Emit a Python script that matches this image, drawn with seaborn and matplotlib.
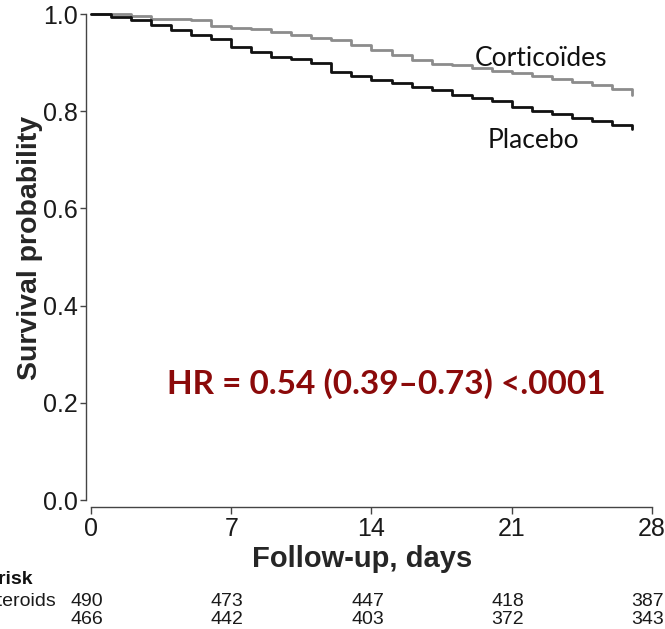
import numpy as np
import pandas as pd
import matplotlib
matplotlib.use("Agg")
import matplotlib.pyplot as plt
import matplotlib.transforms as mtransforms
import seaborn as sns

# ---- data ----
days = list(range(0, 28))
surv_cortico = [1.000, 1.000, 0.996, 0.990, 0.990, 0.987, 0.976, 0.972, 0.969, 0.962,
                0.957, 0.950, 0.947, 0.937, 0.925, 0.916, 0.905, 0.897, 0.895, 0.888,
                0.883, 0.878, 0.872, 0.866, 0.861, 0.854, 0.845, 0.834]
surv_placebo = [1.000, 0.994, 0.987, 0.977, 0.968, 0.957, 0.949, 0.932, 0.921, 0.912,
                0.907, 0.899, 0.881, 0.872, 0.865, 0.859, 0.850, 0.844, 0.833, 0.827,
                0.820, 0.809, 0.801, 0.794, 0.787, 0.780, 0.772, 0.763]
groups = ["Corticoïdes", "Placebo"]
xticks = [0, 7, 14, 21, 28]
yticks = [0.0, 0.2, 0.4, 0.6, 0.8, 1.0]
risk_cortico = [490, 473, 447, 418, 387]
risk_placebo = [466, 442, 403, 372, 343]
risk_labels = ["Number at risk", "Corticosteroids", "Placebo"]
hr_text = "HR = 0.54 (0.39\u20130.73) <.0001"

df = pd.DataFrame({
    "day": days + days,
    "surv": surv_cortico + surv_placebo,
    "group": [groups[0]] * len(days) + [groups[1]] * len(days),
})

sns.set_theme(style="white")
plt.rcParams["font.family"] = ["Liberation Sans", "DejaVu Sans"]

W, H = 665, 629
fig = plt.figure(figsize=(W / 100, H / 100), dpi=100)
ax_left, ax_right, ax_top, ax_bottom = 86, 660, 5, 507
ax = fig.add_axes([ax_left / W, 1 - ax_bottom / H, (ax_right - ax_left) / W, (ax_bottom - ax_top) / H])

sns.lineplot(data=df, x="day", y="surv", hue="group", ax=ax,
             palette={groups[0]: "#8c8c8c", groups[1]: "#111111"},
             drawstyle="steps-post", estimator=None, linewidth=2.0, legend=False)

# pixel mapping: day 0 -> 91 px, day 28 -> 652 px ; surv 0 -> 500, 1 -> 14
px_per_day = (652 - 91) / 28
px_per_unit = 500 - 14
ax.set_xlim((ax_left - 91) / px_per_day, (ax_right - 91) / px_per_day)
ax.set_ylim((500 - ax_bottom) / px_per_unit, (500 - ax_top) / px_per_unit)

for s_ in ["top", "right"]:
    ax.spines[s_].set_visible(False)
for s_ in ["left", "bottom"]:
    ax.spines[s_].set_color("#444444")
    ax.spines[s_].set_linewidth(1.0)
ax.spines["left"].set_bounds(0, 1)
ax.spines["bottom"].set_bounds(0, 28)

ax.set_xticks(xticks)
ax.set_xticklabels([str(t) for t in xticks])
ax.set_yticks(yticks)
ax.set_yticklabels([f"{t:.1f}" for t in yticks])
ax.tick_params(axis="y", direction="out", length=4, width=1, color="#444444",
               labelsize=18, labelcolor="#1a1a1a", pad=2, left=True)
ax.tick_params(axis="x", direction="out", length=5, width=1, color="#444444",
               labelsize=18, labelcolor="#1a1a1a", pad=2, bottom=True)

ax.set_xlabel("Follow-up, days", fontsize=21, fontweight="bold")
ax.set_ylabel("Survival probability", fontsize=20.5, fontweight="bold")
ax.xaxis.set_label_coords(0.481, -0.076)
ax.yaxis.set_label_coords(-0.075, 0.516)

# curve labels and HR annotation
def d(xpx):
    return (xpx - 91) / px_per_day

def s(ypx):
    return (500 - ypx) / px_per_unit

ax.text(d(541), s(58), groups[0], ha="center", va="center", fontsize=19,
        family=["Lato", "DejaVu Sans"], color="#111111")
ax.text(d(533), s(140), groups[1], ha="center", va="center", fontsize=19,
        family=["Lato", "DejaVu Sans"], color="#111111")
ax.text(d(386), s(384), hr_text, ha="center", va="center", fontsize=24,
        fontweight="bold", family=["Lato", "DejaVu Sans"], color="#8b0a0a")

# at-risk table
shift = mtransforms.ScaledTranslation(-4 / 100, 0, fig.dpi_scale_trans)
trans = mtransforms.blended_transform_factory(ax.transData, fig.transFigure) + shift
row_y = [1 - 601 / H, 1 - 619 / H]
for xt, n1, n2 in zip(xticks, risk_cortico, risk_placebo):
    ax.text(xt, row_y[0], str(n1), transform=trans, ha="center", va="center",
            fontsize=14, color="#1a1a1a", clip_on=False)
    ax.text(xt, row_y[1], str(n2), transform=trans, ha="center", va="center",
            fontsize=14, color="#1a1a1a", clip_on=False)
fig.text(33 / W, 1 - 580 / H, risk_labels[0], ha="right", va="center",
         fontsize=14, fontweight="bold", color="#111111")
fig.text(56 / W, 1 - 601 / H, risk_labels[1], ha="right", va="center",
         fontsize=14, color="#1a1a1a")
fig.text(-0.16, 1 - 619 / H, risk_labels[2], ha="left", va="center",
         fontsize=14, color="#1a1a1a")

fig.savefig("out.png", dpi=100)
